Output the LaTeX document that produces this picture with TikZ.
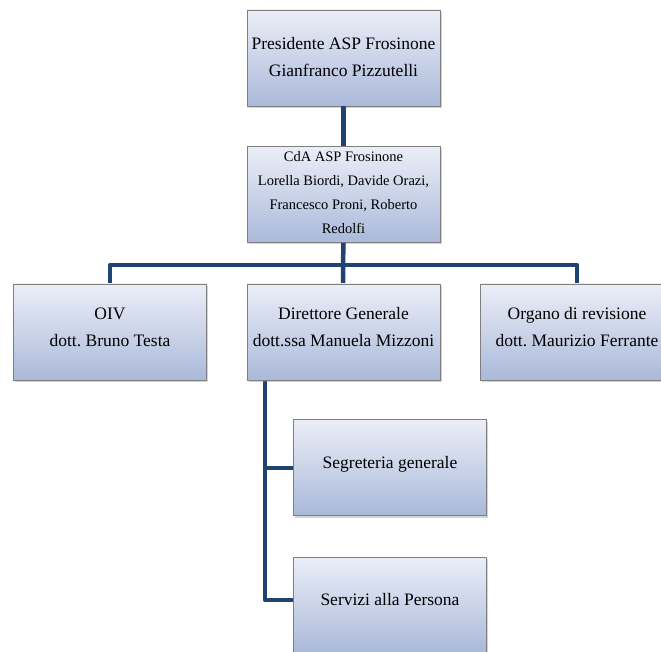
\documentclass[tikz,border=0pt]{standalone}
\usepackage{fontspec}
\setmainfont{Liberation Serif}
\usetikzlibrary{shadows}
\frenchspacing
\definecolor{boxtop}{HTML}{EBEEF7}
\definecolor{boxbot}{HTML}{AAB9DA}
\definecolor{boxedge}{HTML}{7F7F7F}
\definecolor{linkc}{HTML}{1F4470}
\tikzset{
  orgbox/.style={draw=boxedge, line width=0.8pt, top color=boxtop, bottom color=boxbot,
    minimum width=193pt, minimum height=96pt, inner sep=0pt,
    drop shadow={shadow xshift=1.5pt, shadow yshift=-2pt, opacity=0.35}},
  boxtext/.style={align=center, inner sep=0pt},
  bigtxt/.style={font=\fontsize{17.5}{27}\selectfont},
  smalltxt/.style={font=\fontsize{14.5}{24}\selectfont},
  link/.style={draw=linkc, line width=4.5pt}
}
\begin{document}
\begin{tikzpicture}[x=1pt,y=-1pt]
\useasboundingbox (0,0) rectangle (661,652);
\coordinate (bar) at (343,265);
\coordinate (barL) at (110,265);
\coordinate (barR) at (577,265);
\coordinate (dgv) at (265,380);
\coordinate (segj) at (265,468);
\coordinate (serj) at (265,600);
\node[orgbox] (pres) at (343.5,58) {};
\node[boxtext, bigtxt] (prest) at (343.5,57) {Presidente ASP Frosinone\\Gianfranco Pizzutelli};
\node[orgbox] (cda) at (343.5,194.5) {};
\node[boxtext, smalltxt] (cdat) at (343.5,193) {CdA ASP Frosinone\\Lorella Biordi, Davide Orazi,\\Francesco Proni, Roberto\\Redolfi};
\draw[link] (pres.south) -- (cda.north);
\draw[link, line join=round] (barL |- 0,286) -- (barL) -- (barR) -- (barR |- 0,286);
\draw[link] (cda.south) -- (bar) -- (343,286);
\draw[link, line join=round] (dgv) -- (serj) -- (296,600);
\draw[link] (segj) -- (296,468);
\node[orgbox] (oiv) at (110,332) {};
\node[boxtext, bigtxt] (oivt) at (110,327) {OIV\\dott. Bruno Testa};
\node[orgbox] (dg) at (343.5,332) {};
\node[boxtext, bigtxt] (dgt) at (343.5,327) {Direttore Generale\\dott.ssa Manuela Mizzoni};
\node[orgbox] (org) at (577,332) {};
\node[boxtext, bigtxt] (orgt) at (577,327) {Organo di revisione\\dott. Maurizio Ferrante};
\node[orgbox] (seg) at (390,467.5) {};
\node[boxtext, bigtxt] (segt) at (390,464) {Segreteria generale};
\node[orgbox] (ser) at (390,605) {};
\node[boxtext, bigtxt] (sert) at (390,600) {Servizi alla Persona};
\end{tikzpicture}
\end{document}
